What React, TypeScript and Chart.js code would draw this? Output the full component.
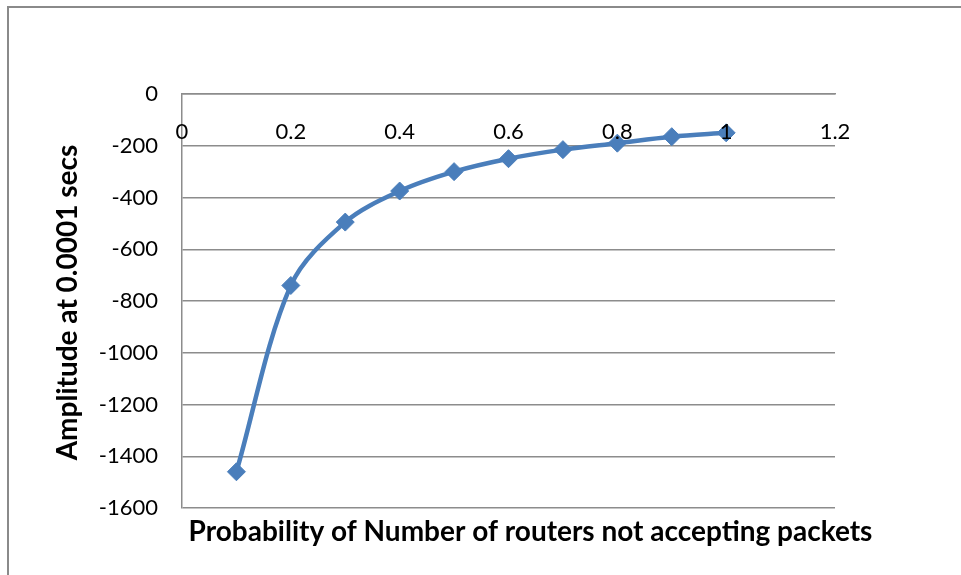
import React, { useEffect, useRef } from "react";
import { Chart, registerables } from "chart.js";

Chart.register(...registerables);

// Share of routers that refuse packets vs. signal amplitude at t = 0.0001 s
const probability = [0.1, 0.2, 0.3, 0.4, 0.5, 0.6, 0.7, 0.8, 0.9, 1.0];
const amplitude = [-1460, -740, -495, -375, -300, -250, -215, -190, -165, -150];

const xTickValues = [0, 0.2, 0.4, 0.6, 0.8, 1, 1.2];
const xTickLabels = ["0", "0.2", "0.4", "0.6", "0.8", "1", "1.2"];
const yTickValues = [0, -200, -400, -600, -800, -1000, -1200, -1400, -1600];
const yTickLabels = ["0", "-200", "-400", "-600", "-800", "-1000", "-1200", "-1400", "-1600"];

const xTitle = "Probability of Number of routers not accepting packets";
const yTitle = "Amplitude at 0.0001 secs";

const LINE_BLUE = "#4a7ebb";
const GRID_GREY = "#8c8c8c";
const TICK_FONT = "Lato, 'Open Sans', sans-serif";
const TITLE_FONT = "Lato, sans-serif";

// Axis titles are placed by hand, like a spreadsheet chart does
const axisTitles = {
  id: "axisTitles",
  afterDraw(chart: Chart) {
    const { ctx } = chart;
    ctx.save();
    ctx.fillStyle = "#000";
    ctx.font = `bold 28px ${TITLE_FONT}`;
    ctx.textAlign = "center";
    ctx.textBaseline = "alphabetic";
    ctx.fillText(xTitle, 530.5, 541);
    ctx.translate(77, 302.5);
    ctx.rotate(-Math.PI / 2);
    ctx.fillText(yTitle, 0, 0);
    ctx.restore();
  },
};

export default function App() {
  const canvasRef = useRef<HTMLCanvasElement | null>(null);

  useEffect(() => {
    const canvas = canvasRef.current;
    if (!canvas) return;
    const chart = new Chart(canvas, {
      type: "scatter",
      data: {
        datasets: [
          {
            data: probability.map((p, i) => ({ x: p, y: amplitude[i] })),
            showLine: true,
            borderColor: LINE_BLUE,
            backgroundColor: LINE_BLUE,
            borderWidth: 4.5,
            tension: 0.33,
            pointStyle: "rectRot",
            pointRadius: 9,
            pointHoverRadius: 9,
            pointBackgroundColor: LINE_BLUE,
            pointBorderColor: LINE_BLUE,
            pointBorderWidth: 1,
          },
        ],
      },
      options: {
        animation: false,
        responsive: false,
        maintainAspectRatio: false,
        layout: { padding: { left: 0, top: 94, right: 126, bottom: 67 } },
        plugins: {
          legend: { display: false },
          title: { display: false },
          tooltip: { enabled: false },
        },
        scales: {
          x: {
            type: "linear",
            position: { y: 0 },
            min: 0,
            max: 1.2,
            afterBuildTicks: (scale: any) => {
              scale.ticks = xTickValues.map((v) => ({ value: v }));
            },
            grid: { display: false, drawTicks: false },
            border: { display: true, color: GRID_GREY, width: 1.5 },
            ticks: {
              z: 1,
              padding: 25,
              color: "#000",
              font: { family: TICK_FONT, size: 22 },
              maxRotation: 0,
              autoSkip: false,
              callback: (_v: any, i: number) => xTickLabels[i],
            },
          },
          y: {
            type: "linear",
            position: "left",
            min: -1600,
            max: 0,
            afterBuildTicks: (scale: any) => {
              scale.ticks = yTickValues.map((v) => ({ value: v }));
            },
            afterFit: (scale: any) => {
              scale.width = 182;
            },
            grid: { color: GRID_GREY, lineWidth: 1.5, drawTicks: false },
            border: { display: true, color: GRID_GREY, width: 1.5 },
            ticks: {
              padding: 24,
              color: "#000",
              font: { family: TICK_FONT, size: 22 },
              autoSkip: false,
              callback: (_v: any, i: number) => yTickLabels[i],
            },
          },
        },
      },
      plugins: [axisTitles],
    });
    return () => chart.destroy();
  }, []);

  return (
    <div
      style={{
        position: "absolute",
        left: 0,
        top: 0,
        width: 961,
        height: 575,
        overflow: "hidden",
        background: "#fff",
      }}
    >
      <div
        style={{
          position: "absolute",
          left: 7,
          top: 6,
          width: 1200,
          height: 1200,
          border: "2px solid #8a8a8a",
        }}
      />
      <canvas
        ref={canvasRef}
        width={961}
        height={575}
        style={{ position: "absolute", left: 0, top: 0 }}
      />
    </div>
  );
}
